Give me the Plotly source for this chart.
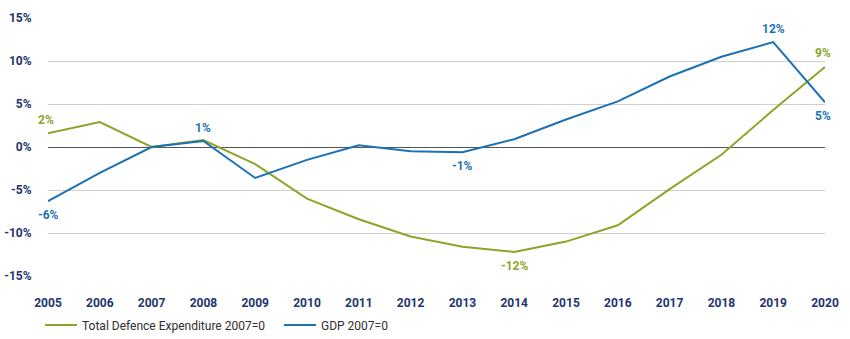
import plotly.graph_objects as go

years = list(range(2005, 2021))
defence = [1.6, 2.9, 0.0, 0.8, -2.0, -6.0, -8.4, -10.4, -11.6, -12.2, -11.0, -9.1, -4.9, -0.9, 4.3, 9.3]
gdp = [-6.3, -3.0, 0.0, 0.7, -3.6, -1.5, 0.2, -0.5, -0.6, 0.9, 3.2, 5.3, 8.2, 10.5, 12.2, 5.2]
y_ticks = [-15, -10, -5, 0, 5, 10, 15]
y_tick_labels = ["-15%", "-10%", "-5%", "0%", "5%", "10%", "15%"]

GREEN = "#8ba52a"
BLUE = "#1a72b5"
NAVY = "#23346e"

# labelled points: (year index, text, xshift, yshift)
def_labels = [(0, "2%", -2, 13), (9, "-12%", 0, -14), (15, "9%", -2, 14)]
gdp_labels = [(0, "-6%", 0, -14), (3, "1%", 0, 13), (8, "-1%", 0, -14), (14, "12%", 0, 13), (15, "5%", -2, -14)]

fig = go.Figure()
fig.add_trace(go.Scatter(x=years, y=defence, mode="lines", name="Total Defence Expenditure 2007=0",
                         line=dict(color=GREEN, width=2)))
fig.add_trace(go.Scatter(x=years, y=gdp, mode="lines", name="GDP 2007=0",
                         line=dict(color=BLUE, width=2)))

for i, t, xs, ys in def_labels:
    fig.add_annotation(x=years[i], y=defence[i], text=t, showarrow=False, xshift=xs, yshift=ys,
                       font=dict(color=GREEN, size=12, family="Roboto", weight="bold"))
for i, t, xs, ys in gdp_labels:
    fig.add_annotation(x=years[i], y=gdp[i], text=t, showarrow=False, xshift=xs, yshift=ys,
                       font=dict(color=BLUE, size=12, family="Roboto", weight="bold"))

fig.update_layout(
    width=850, height=339,
    margin=dict(l=48, r=25, t=18, b=63, autoexpand=False),
    plot_bgcolor="white", paper_bgcolor="white",
    showlegend=True,
    legend=dict(orientation="h", x=40 / 850, xref="container", xanchor="left",
                y=14 / 339, yref="container", yanchor="middle",
                font=dict(family="Roboto", size=12, color="#2e2e2e"),
                itemwidth=32, tracegroupgap=0, entrywidth=192),
    xaxis=dict(range=[2005, 2020], tickmode="array", tickvals=years, ticktext=[str(y) for y in years],
               showgrid=False, zeroline=False, showline=False,
               ticks="outside", ticklen=16, tickcolor="rgba(0,0,0,0)",
               tickfont=dict(family="Roboto", size=12, color=NAVY, weight="bold")),
    yaxis=dict(range=[-15, 15], tickmode="array", tickvals=y_ticks, ticktext=y_tick_labels,
               showgrid=True, gridcolor="#cfcfcf", gridwidth=1,
               zeroline=True, zerolinecolor="#555555", zerolinewidth=1.2,
               showline=False, ticks="outside", ticklen=13, tickcolor="rgba(0,0,0,0)",
               tickfont=dict(family="Roboto", size=12, color=NAVY, weight="bold")),
)

fig.write_html("out.html")
